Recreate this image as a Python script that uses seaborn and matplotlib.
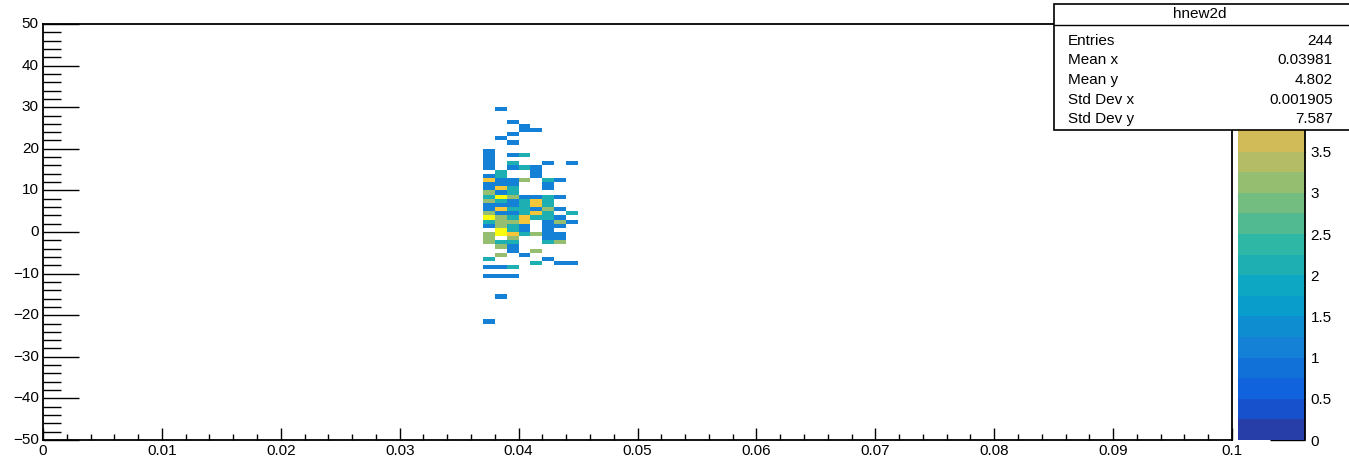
import numpy as np
import matplotlib
matplotlib.use("Agg")
import matplotlib.pyplot as plt
import seaborn as sns
from matplotlib.colors import LinearSegmentedColormap, ListedColormap, BoundaryNorm
from matplotlib.ticker import FixedLocator, FixedFormatter
from matplotlib.patches import Rectangle
from matplotlib.lines import Line2D

# ---------------- data ----------------
hist_name = "hnew2d"
x_range = (0.0, 0.1)
nx = 100
y_range = (-50, 50)
ny = 100

x_cols = [0.037, 0.038, 0.039, 0.040, 0.041, 0.042, 0.043, 0.044]
y_rows = [29, 26, 25, 24, 23, 22, 21, 19, 18, 17, 16, 15, 14, 13, 12, 11, 10, 9,
          8, 7, 6, 5, 4, 3, 2, 1, 0, -1, -2, -3, -4, -5, -6, -7, -8, -9, -11, -16, -22]
counts = [
    [0, 1, 0, 0, 0, 0, 0, 0],  # 29
    [0, 0, 1, 0, 0, 0, 0, 0],  # 26
    [0, 0, 0, 1, 0, 0, 0, 0],  # 25
    [0, 0, 0, 1, 1, 0, 0, 0],  # 24
    [0, 0, 1, 0, 0, 0, 0, 0],  # 23
    [0, 1, 0, 0, 0, 0, 0, 0],  # 22
    [0, 0, 1, 0, 0, 0, 0, 0],  # 21
    [1, 0, 0, 0, 0, 0, 0, 0],  # 19
    [1, 0, 1, 2, 0, 0, 0, 0],  # 18
    [1, 0, 0, 0, 0, 0, 0, 0],  # 17
    [1, 0, 2, 0, 0, 1, 0, 1],  # 16
    [1, 0, 1, 2, 1, 0, 0, 0],  # 15
    [0, 2, 0, 0, 1, 0, 0, 0],  # 14
    [1, 2, 0, 0, 1, 0, 0, 0],  # 13
    [4, 1, 1, 3, 0, 2, 1, 0],  # 12
    [1, 1, 1, 0, 0, 1, 0, 0],  # 11
    [1, 4, 2, 0, 0, 1, 0, 0],  # 10
    [3, 1, 2, 0, 0, 0, 0, 0],  # 9
    [2, 5, 3, 1, 1, 2, 1, 0],  # 8
    [3, 2, 1, 2, 4, 2, 0, 0],  # 7
    [1, 1, 1, 2, 4, 2, 0, 0],  # 6
    [1, 4, 2, 2, 1, 3, 1, 0],  # 5
    [3, 1, 1, 2, 4, 2, 0, 2],  # 4
    [5, 3, 2, 4, 2, 2, 1, 0],  # 3
    [2, 3, 3, 4, 0, 1, 3, 1],  # 2
    [1, 3, 2, 1, 0, 1, 1, 0],  # 1
    [0, 5, 2, 1, 0, 1, 0, 0],  # 0
    [3, 5, 4, 2, 3, 1, 1, 0],  # -1
    [3, 0, 3, 0, 0, 1, 1, 0],  # -2
    [3, 2, 2, 0, 0, 2, 3, 0],  # -3
    [0, 3, 1, 0, 0, 0, 0, 0],  # -4
    [0, 0, 1, 0, 3, 0, 0, 0],  # -5
    [0, 3, 0, 1, 0, 0, 0, 0],  # -6
    [2, 0, 0, 0, 0, 1, 0, 0],  # -7
    [0, 0, 0, 0, 2, 0, 1, 1],  # -8
    [1, 1, 2, 0, 0, 0, 0, 0],  # -9
    [1, 1, 1, 0, 0, 0, 0, 0],  # -11
    [0, 1, 0, 0, 0, 0, 0, 0],  # -16
    [1, 0, 0, 0, 0, 0, 0, 0],  # -22
]

x_tick_values = [0.0, 0.01, 0.02, 0.03, 0.04, 0.05, 0.06, 0.07, 0.08, 0.09, 0.1]
x_tick_labels = ["0", "0.01", "0.02", "0.03", "0.04", "0.05", "0.06", "0.07", "0.08", "0.09", "0.1"]
y_tick_values = [50, 40, 30, 20, 10, 0, -10, -20, -30, -40, -50]
y_tick_labels = ["50", "40", "30", "20", "10", "0", "\u221210", "\u221220", "\u221230", "\u221240", "\u221250"]
# colour-axis labels visible in the reference (higher ones sit under the stats box)
z_tick_values = [0, 0.5, 1, 1.5, 2, 2.5, 3, 3.5]
z_tick_labels = ["0", "0.5", "1", "1.5", "2", "2.5", "3", "3.5"]
z_max = 5.05

stats_labels = ["Entries", "Mean x", "Mean y", "Std Dev x", "Std Dev y"]
stats_values = ["244", "0.03981", "4.802", "0.001905", "7.587"]

# ROOT kBird palette
bird_stops = [0.0, 0.125, 0.25, 0.375, 0.5, 0.625, 0.75, 0.875, 1.0]
bird_red = [0.2082, 0.0592, 0.0780, 0.0232, 0.1802, 0.5301, 0.8186, 0.9956, 0.9764]
bird_green = [0.1664, 0.3599, 0.5041, 0.6419, 0.7178, 0.7492, 0.7328, 0.7862, 0.9832]
bird_blue = [0.5293, 0.8684, 0.8385, 0.7914, 0.6425, 0.4662, 0.3499, 0.1968, 0.0539]

# ---------------- style ----------------
sns.set_theme(style="white")
plt.rcParams['font.family'] = ['Liberation Sans', 'DejaVu Sans']
plt.rcParams['axes.unicode_minus'] = True

W, H = 1349, 461
fig = plt.figure(figsize=(W / 100, H / 100), dpi=100)
fig.patch.set_facecolor("white")

def fx(px):
    return px / W

def fy(py):
    return 1 - py / H

ax = fig.add_axes([fx(43), fy(440), fx(1232) - fx(43), fy(24) - fy(440)])
cax = fig.add_axes([fx(1238), fy(440), fx(1305) - fx(1238), fy(24) - fy(440)])

# colour map: 20 contour bands, ROOT-style colour indexing
bird = LinearSegmentedColormap.from_list(
    "bird", list(zip(bird_stops, zip(bird_red, bird_green, bird_blue))), N=255)
n_bands = 20
band_colors = [bird(int((k + 0.99) * 255 / n_bands)) for k in range(n_bands)]
cmap = ListedColormap(band_colors)
bounds = [k * 0.25 for k in range(n_bands)] + [z_max]
norm = BoundaryNorm(bounds, n_bands)

# build full histogram grid (row 0 = top bin)
dx = (x_range[1] - x_range[0]) / nx
dy = (y_range[1] - y_range[0]) / ny
grid = np.full((ny, nx), np.nan)
for yv, row in zip(y_rows, counts):
    for xv, c in zip(x_cols, row):
        if c > 0:
            i = int(round((y_range[1] - dy - yv) / dy))
            j = int(round((xv - x_range[0]) / dx))
            grid[i, j] = c

sns.heatmap(grid, ax=ax, cbar_ax=cax, cmap=cmap, norm=norm,
            mask=np.isnan(grid), xticklabels=False, yticklabels=False,
            cbar_kws=dict(spacing="proportional"), linewidths=0)

ax.set_xlim(0, nx)
ax.set_ylim(ny, 0)

# spines
for s in ax.spines.values():
    s.set_visible(True)
    s.set_color("black")
    s.set_linewidth(1.3)

# ticks, main axes
xpos = [(v - x_range[0]) / dx for v in x_tick_values]
ax.xaxis.set_major_locator(FixedLocator(xpos))
ax.xaxis.set_major_formatter(FixedFormatter(x_tick_labels))
ax.xaxis.set_minor_locator(FixedLocator(np.arange(0, nx + 0.1, 2)))
ypos = [(y_range[1] - v) / dy for v in y_tick_values]
ax.yaxis.set_major_locator(FixedLocator(ypos))
ax.yaxis.set_major_formatter(FixedFormatter(y_tick_labels))
ax.yaxis.set_minor_locator(FixedLocator(np.arange(0, ny + 0.1, 2)))

ax.tick_params(axis="x", which="major", direction="in", length=9, width=1,
               color="black", labelsize=11, labelcolor="black", pad=3,
               bottom=True, top=False, labelrotation=0)
ax.tick_params(axis="x", which="minor", direction="in", length=4.5, width=1,
               color="black", bottom=True, top=False)
ax.tick_params(axis="y", which="major", direction="in", length=26, width=1,
               color="black", labelsize=11, labelcolor="black", pad=3,
               left=True, right=False, labelrotation=0)
ax.tick_params(axis="y", which="minor", direction="in", length=13, width=1,
               color="black", left=True, right=False)
for lab in ax.get_yticklabels():
    lab.set_verticalalignment("center")

# colour bar axis
cb = ax.collections[0].colorbar
cb.outline.set_linewidth(0)
cb.set_ticks(z_tick_values)
cb.set_ticklabels(z_tick_labels)
cax.yaxis.set_ticks_position("right")
cax.tick_params(axis="y", which="major", direction="in", length=25, width=1,
                color="black", labelsize=11, labelcolor="black", pad=4)
cax.minorticks_off()
cax.add_line(Line2D([1, 1], [0, 1], transform=cax.transAxes, color="black",
                    lw=1.3, clip_on=False))

# statistics box
bx0, bx1, by0, by1 = 1054, 1352, 4, 130
fig.patches.append(Rectangle((fx(bx0), fy(by1)), fx(bx1) - fx(bx0), fy(by0) - fy(by1),
                             transform=fig.transFigure, facecolor="white",
                             edgecolor="black", linewidth=1.2, zorder=10))
fig.lines.append(Line2D([fx(bx0), fx(bx1)], [fy(25), fy(25)], transform=fig.transFigure,
                        color="black", lw=1.0, zorder=11))
fig.text(fx(1200), fy(14), hist_name, ha="center", va="center", fontsize=11,
         color="black", zorder=12)
for k, (lab, val) in enumerate(zip(stats_labels, stats_values)):
    ybase = 45 + k * 19.5
    fig.text(fx(1068), fy(ybase), lab, ha="left", va="baseline", fontsize=11,
             color="black", zorder=12)
    fig.text(fx(1333), fy(ybase), val, ha="right", va="baseline", fontsize=11,
             color="black", zorder=12)

fig.savefig("out.png", dpi=100, facecolor="white")
